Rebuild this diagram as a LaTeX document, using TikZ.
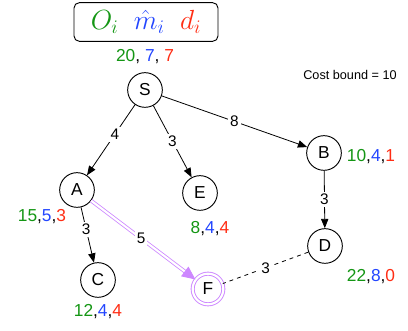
\documentclass[tikz,border=0pt]{standalone}
\usepackage{fontspec}
\setmainfont{Liberation Sans}
\usetikzlibrary{arrows.meta}
\definecolor{cg}{RGB}{20,150,20}
\definecolor{cb}{RGB}{35,70,255}
\definecolor{cr}{RGB}{255,45,20}
\definecolor{cp}{RGB}{205,135,255}
\newcommand{\trip}[3]{\textcolor{cg}{#1},\textcolor{cb}{#2},\textcolor{cr}{#3}}
\tikzset{
  vtx/.style={circle,draw,line width=0.7pt,minimum size=26pt,inner sep=0pt,font=\fontsize{13}{14}\selectfont},
  info/.style={font=\fontsize{13}{14}\selectfont,inner sep=0pt},
  elab/.style={fill=white,inner sep=1.5pt,font=\fontsize{11.5}{12}\selectfont},
  arr/.style={line width=0.6pt,-{Triangle[length=7pt,width=5.5pt]}},
}
\begin{document}
\begin{tikzpicture}[x=0.75pt,y=-0.75pt]
\useasboundingbox (0,0) rectangle (408,331);
\node[draw,rounded corners=4pt,line width=0.7pt,minimum width=108pt,minimum height=29pt,inner sep=0pt] (leg) at (146,22)
  {\fontsize{20}{22}\selectfont$\textcolor{cg}{O_i}\;\;\textcolor{cb}{\hat{m}_i}\;\;\textcolor{cr}{d_i}$};
\node[vtx] (S) at (145,90) {S};
\node[vtx] (A) at (77,190) {A};
\node[vtx] (E) at (200,193) {E};
\node[vtx] (B) at (324,153) {B};
\node[vtx] (D) at (325,246) {D};
\node[vtx] (C) at (98,280) {C};
\node[circle,draw=cp,double=white,double distance=1.6pt,line width=0.7pt,minimum size=23pt,inner sep=0pt,font=\fontsize{13}{14}\selectfont] (F) at (208,289) {F};
\node[info] (iS) at (145,57) {\textcolor{cg}{20}, \textcolor{cb}{7}, \textcolor{cr}{7}};
\node[info] (iA) at (42,217) {\trip{15}{5}{3}};
\node[info] (iE) at (210,229) {\trip{8}{4}{4}};
\node[info] (iB) at (371,157) {\trip{10}{4}{1}};
\node[info] (iD) at (371,277) {\trip{22}{8}{0}};
\node[info] (iC) at (98,312) {\trip{12}{4}{4}};
\node[font=\fontsize{9.5}{10}\selectfont] (cost) at (350,75) {Cost bound = 10};
\draw[arr] (S) -- node[elab,pos=0.42] {4} (A);
\draw[arr] (S) -- node[elab,pos=0.5] {3} (E);
\draw[arr] (S) -- node[elab,pos=0.5] {8} (B);
\draw[arr] (B) -- node[elab,pos=0.5] {3} (D);
\draw[arr] (A) -- node[elab,pos=0.4] {3} (C);
\draw[draw=cp,double=white,double distance=1.6pt,line width=0.6pt,-{Triangle[length=10pt,width=9pt,fill=cp,color=cp]}] (A) -- node[elab,pos=0.48] {5} (F);
\draw[dashed,line width=0.6pt] (D) -- node[elab,pos=0.5] {3} (F);
\end{tikzpicture}
\end{document}
